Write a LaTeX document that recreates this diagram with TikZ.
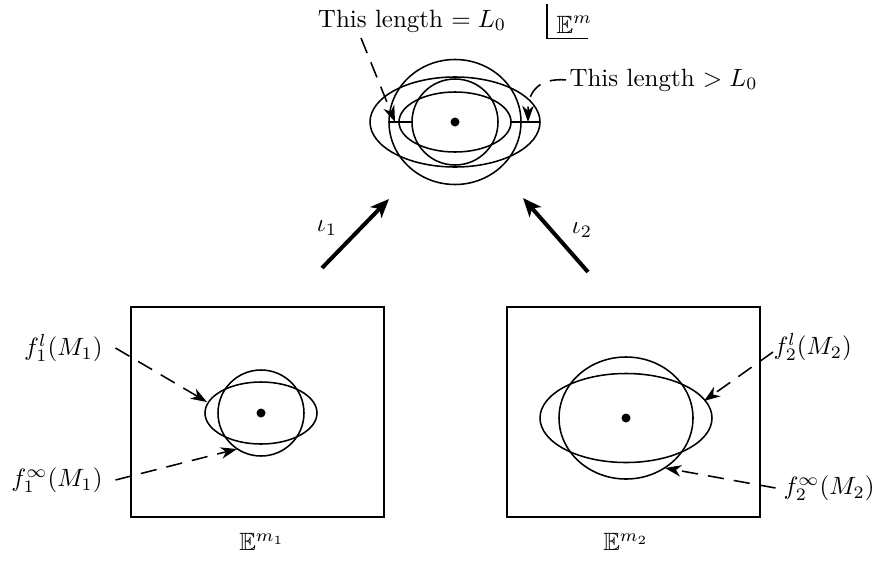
\documentclass[tikz,border=0pt]{standalone}
\usepackage{amsmath,amssymb}
\usetikzlibrary{arrows.meta,calc}
\begin{document}
\begin{tikzpicture}[x=0.4pt,y=-0.4pt,
  curve/.style={line width=0.62pt},
  dasharrow/.style={line width=0.62pt, dash pattern=on 6.5pt off 4pt,
    -{Stealth[length=6.5pt,width=4.6pt,inset=2pt]}},
  bigarrow/.style={line width=1.6pt, -{Stealth[length=7.5pt,width=6.2pt,inset=2pt]}},
  lbl/.style={inner sep=0pt},
  dotnode/.style={circle, fill, inner sep=0pt, minimum size=3.6pt},
  framebox/.style={draw, line width=0.65pt, minimum width=101.2pt, minimum height=84pt, inner sep=0pt}]

\useasboundingbox (0,0) rectangle (878,560);

% ---------- top picture ----------
\node[dotnode] (c0) at (455,122) {};
\draw[curve] (c0.center) circle [radius=17.2pt];
\draw[curve] (c0.center) ellipse [x radius=22.4pt, y radius=12pt];
\draw[curve] (c0.center) ellipse [x radius=26.4pt, y radius=25pt];
\draw[curve] (c0.center) ellipse [x radius=34pt, y radius=18pt];
\coordinate (sl1) at (389,122);
\coordinate (sl2) at (412,122);
\coordinate (sr1) at (511,122);
\coordinate (sr2) at (540,122);
\draw[curve] (sl1) -- (sl2);
\draw[curve] (sr1) -- (sr2);

\node[lbl, anchor=base] (Teq) at (412,27) {This length $= L_0$};
\node[lbl, inner xsep=0pt, inner ysep=2pt, anchor=base west] (Em) at (556,33) {$\mathbb{E}^m$};
\draw[curve] ([xshift=-3.6pt,yshift=2.5pt]Em.north west) -- ([xshift=-3.6pt]Em.south west) -- ([xshift=-2pt]Em.south east);
\node[lbl, anchor=base west] (Tgt) at (569,86) {This length $> L_0$};

\coordinate (s1) at (361,38);
\coordinate (tl) at (395,122);
\coordinate (tr) at (528,122);
\draw[dasharrow] (s1) -- (tl);
\draw[dasharrow] ([xshift=-1.2pt]Tgt.west) .. controls (540,78) and (528,90) .. (tr);

% ---------- inclusion arrows ----------
\coordinate (a1s) at (322,268);
\coordinate (a1e) at (389,199);
\coordinate (a2s) at (588,272);
\coordinate (a2e) at (523,198);
\draw[bigarrow] (a1s) -- (a1e);
\draw[bigarrow] (a2s) -- (a2e);
\node[lbl] (i1) at (327,228) {$\iota_1$};
\node[lbl] (i2) at (582,230) {$\iota_2$};

% ---------- bottom left ----------
\node[framebox] (B1) at (257.5,412) {};
\node[dotnode] (c1) at (261,413) {};
\draw[curve] (c1.center) circle [radius=17.2pt];
\draw[curve] (c1.center) ellipse [x radius=22.4pt, y radius=12.4pt];
\node[lbl] (E1) at (262,542) {$\mathbb{E}^{m_1}$};
\node[lbl, anchor=east] (fl1) at (103,348) {$f_1^l(M_1)$};
\node[lbl, anchor=east] (fi1) at (103,480) {$f_1^\infty(M_1)$};
\coordinate (t1) at (207,402);
\coordinate (t2) at (237,449);
\draw[dasharrow] ([xshift=5pt]fl1.east) -- (t1);
\draw[dasharrow] ([xshift=5pt]fi1.east) -- (t2);

% ---------- bottom right ----------
\node[framebox] (B2) at (633.5,412) {};
\node[dotnode] (c2) at (626,418) {};
\draw[curve] (c2.center) ellipse [x radius=26.8pt, y radius=24.4pt];
\draw[curve] (c2.center) ellipse [x radius=34.4pt, y radius=17.8pt];
\node[lbl] (E2) at (626,542) {$\mathbb{E}^{m_2}$};
\node[lbl, anchor=west] (fl2) at (773,347) {$f_2^l(M_2)$};
\node[lbl, anchor=west] (fi2) at (783,488) {$f_2^\infty(M_2)$};
\coordinate (t3) at (704,401);
\coordinate (t4) at (665,468);
\draw[dasharrow] ([yshift=-2pt]fl2.west) -- (t3);
\draw[dasharrow] ([xshift=-3pt]fi2.west) -- (t4);
\end{tikzpicture}
\end{document}
